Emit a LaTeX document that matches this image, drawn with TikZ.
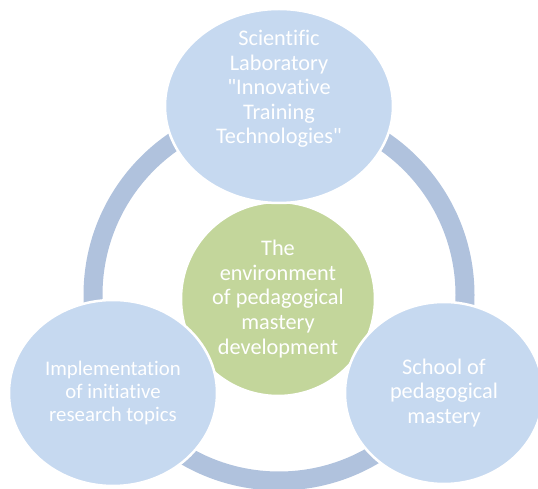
\documentclass[tikz,border=0pt]{standalone}
\usepackage{fontspec}
\setmainfont{Carlito}[Ligatures={NoCommon}]
\usetikzlibrary{shapes.geometric}
\definecolor{ringblue}{RGB}{176,194,221}
\definecolor{bubblue}{RGB}{198,217,240}
\definecolor{midgreen}{RGB}{195,214,155}

\begin{document}
\begin{tikzpicture}[x=1pt,y=1pt,
  bub/.style={ellipse,draw=white,line width=2.5pt,fill=bubblue,inner sep=0pt},
  txt/.style={align=center,text=white,font=\fontsize{22.3}{24.6}\selectfont},
  smalltxt/.style={txt,font=\fontsize{20.8}{23}\selectfont},
  ringline/.style={draw=ringblue,line width=19pt}
]
  \useasboundingbox (0,0) rectangle (538,489);
  \draw[ringline] (279,194) circle (186);
  \node[bub,circle,fill=midgreen,minimum size=194pt,txt] (env) at (278,190)
    {The\\environment\\of pedagogical\\mastery\\development};
  \node[bub,minimum width=228pt,minimum height=194pt] (lab) at (279,383) {};
  \node[txt] (labtxt) at ([yshift=17pt]lab.center)
    {Scientific\\Laboratory\\\textquotedbl Innovative\\Training\\Technologies\textquotedbl};
  \node[bub,minimum width=208pt,minimum height=186pt,smalltxt] (impl) at (113,96)
    {Implementation\\of initiative\\research topics};
  \node[bub,minimum width=198pt,minimum height=182pt,txt] (school) at (444,96)
    {School of\\pedagogical\\mastery};
\end{tikzpicture}
\end{document}
